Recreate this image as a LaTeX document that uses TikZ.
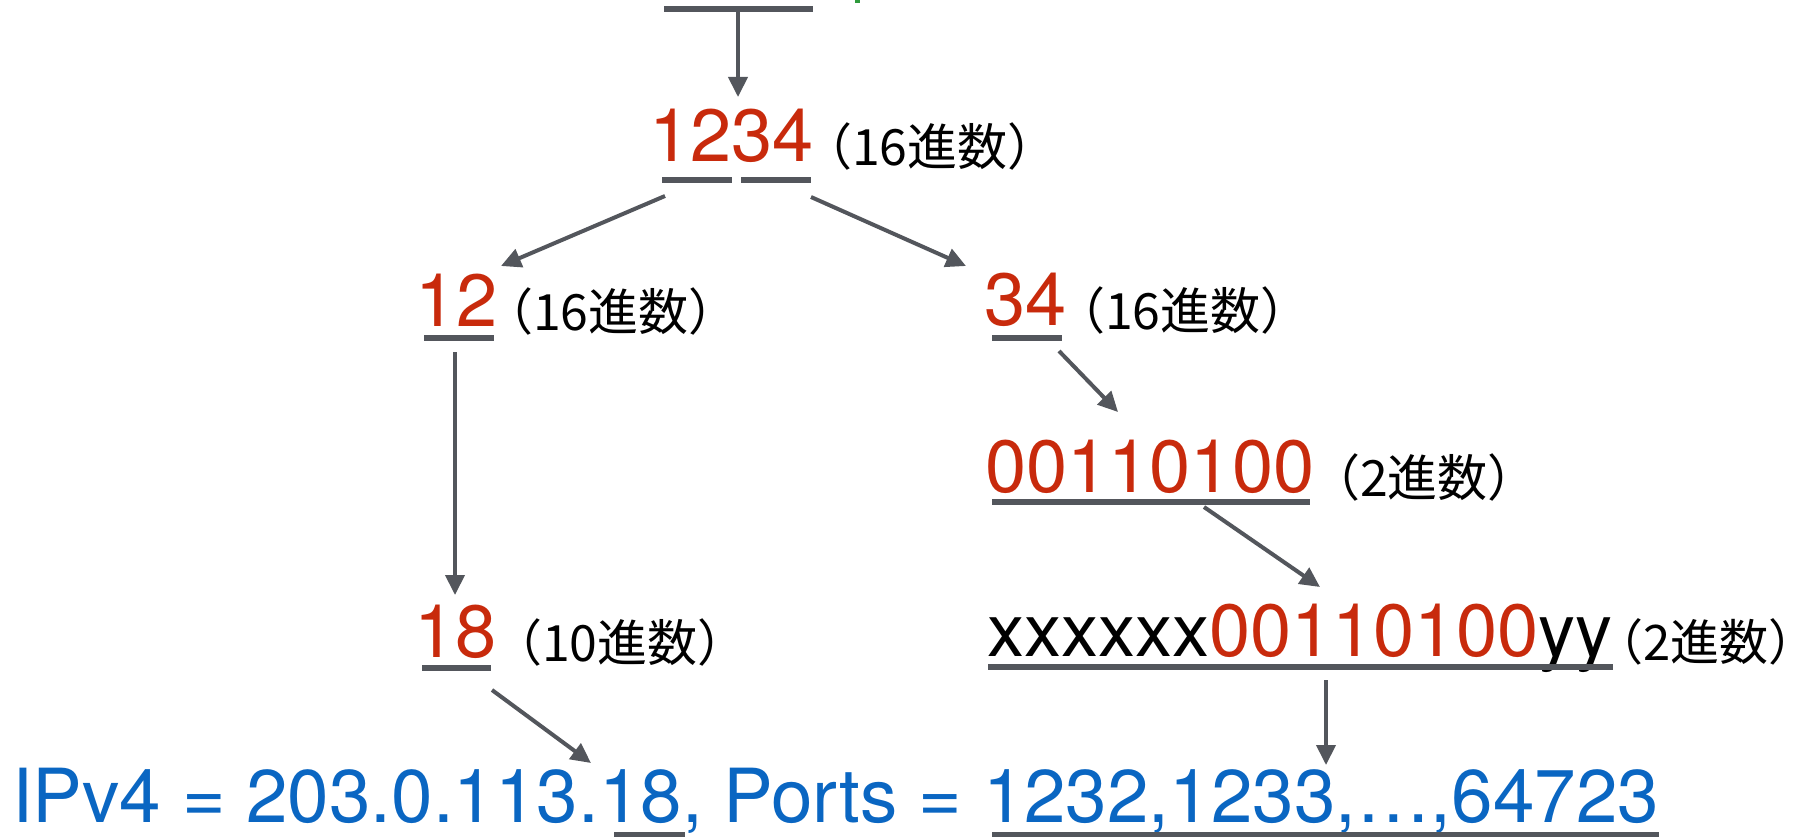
\documentclass[tikz,border=0pt]{standalone}
\usepackage{fontspec}
\setmainfont{TeX Gyre Heros}
\newfontfamily\jpfont{Noto Sans CJK JP}
\usetikzlibrary{arrows.meta}
\definecolor{numred}{HTML}{C82A0C}
\definecolor{ipblue}{HTML}{0A66C2}
\definecolor{linegray}{HTML}{53565C}
\definecolor{markgreen}{HTML}{2E9A3C}
% trim the side bearings of the full-width brackets from the label box
\newcommand\basetag[1]{\kern-0.4em#1\kern-0.4em}

\begin{document}
\begin{tikzpicture}[x=1pt,y=-1pt,
  num/.style={anchor=base west, inner sep=0pt, font=\fontsize{74}{80}\selectfont, text=numred},
  tag/.style={anchor=base west, inner sep=0pt, font=\jpfont\fontsize{50}{56}\selectfont, text=black},
  uline/.style={draw=linegray, line width=6pt},
  conn/.style={draw=linegray, line width=4pt, -{Triangle[length=20pt,width=19pt]}},
]
\useasboundingbox (0,0) rectangle (1794,837);

% numbers and base labels
\node[num] (n1234) at (649,162) {1234};
\node[tag] (t1234) at (822,166) {\basetag{（16進数）}};
\node[num] (n12) at (415,326) {12};
\node[tag] (t12) at (503,330) {\basetag{（16進数）}};
\node[num] (n34) at (984,325) {34};
\node[tag] (t34) at (1075,329) {\basetag{（16進数）}};
\node[num] (nbin) at (985,492) {00110100};
\node[tag] (tbin) at (1330,496) {\basetag{（2進数）}};
\node[num,text=black] (nwide) at (987,656) {xxxxxx\textcolor{numred}{00110100}yy};
\node[tag,font=\jpfont\fontsize{49}{55}\selectfont] (twide) at (1614,660) {\basetag{（2進数）}};
\node[num] (n18) at (414,657) {18};
\node[tag] (t18) at (512,661) {\basetag{（10進数）}};
\node[num,text=ipblue,font=\fontsize{74.6}{80}\selectfont] (nip) at (12,822)
  {IPv4 = 203.0.113.18, Ports = 1232,1233,…,64723};

% underlines
\coordinate (u0a) at (664,9);     \coordinate (u0b) at (813,9);
\coordinate (u1a) at (662,180);   \coordinate (u1b) at (732,180);
\coordinate (u1c) at (741,180);   \coordinate (u1d) at (811,180);
\coordinate (u2a) at (424,338);   \coordinate (u2b) at (494,338);
\coordinate (u3a) at (992,338);   \coordinate (u3b) at (1062,338);
\coordinate (u4a) at (992,502);   \coordinate (u4b) at (1310,502);
\coordinate (u5a) at (988,667);   \coordinate (u5b) at (1613,667);
\coordinate (u6a) at (422,668);   \coordinate (u6b) at (491,668);
\coordinate (u7a) at (614,835);   \coordinate (u7b) at (685,835);
\coordinate (u8a) at (992,835);   \coordinate (u8b) at (1659,835);
\foreach \a/\b in {u0a/u0b,u1a/u1b,u1c/u1d,u2a/u2b,u3a/u3b,u4a/u4b,u5a/u5b,u6a/u6b,u7a/u7b,u8a/u8b}
  \draw[uline] (\a) -- (\b);

% green mark at the top edge
\fill[markgreen] (855,0) rectangle (860,3);

% connector ends
\coordinate (s1) at (738,12);   \coordinate (e1) at (738,97);
\coordinate (s2) at (665,196);  \coordinate (e2) at (501,266);
\coordinate (s3) at (811,197);  \coordinate (e3) at (966,266);
\coordinate (s4) at (455,352);  \coordinate (e4) at (455,595);
\coordinate (s5) at (1059,351); \coordinate (e5) at (1118,412);
\coordinate (s6) at (1204,507); \coordinate (e6) at (1320,587);
\coordinate (s7) at (492,690);  \coordinate (e7) at (591,763);
\coordinate (s8) at (1326,680); \coordinate (e8) at (1326,765);
\foreach \i in {1,...,8}
  \draw[conn] (s\i) -- (e\i);
\end{tikzpicture}
\end{document}
